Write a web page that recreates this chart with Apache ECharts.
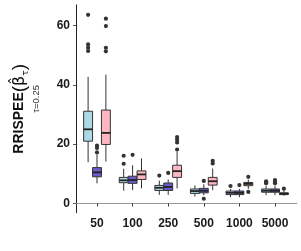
<!DOCTYPE html>
<html><head><meta charset="utf-8">
<script src="https://cdn.jsdelivr.net/npm/echarts@6/dist/echarts.min.js"></script>
<style>html,body{margin:0;padding:0;background:#fff}#c{width:301px;height:251px}</style>
</head><body><div id="c"></div>
<script>
// ---- data ----
const categories = ['50', '100', '250', '500', '1000', '5000'];
const yTicks = [0, 20, 40, 60];
// [lower whisker, Q1, median, Q3, upper whisker]
const blueBox = [
  [13.9, 21.0, 25.0, 31.1, 42.7],
  [4.3, 7.0, 7.8, 8.8, 11.7],
  [2.9, 4.4, 5.3, 6.1, 7.7],
  [2.3, 3.4, 4.2, 4.9, 6.1],
  [2.1, 3.0, 3.6, 4.2, 4.9],
  [2.8, 3.8, 4.3, 4.9, 5.9]
];
const purpleBox = [
  [6.8, 9.0, 10.5, 12.1, 16.5],
  [4.5, 6.8, 7.9, 9.2, 12.9],
  [2.9, 4.4, 5.6, 6.9, 8.1],
  [2.8, 3.6, 4.3, 5.1, 6.5],
  [2.1, 3.0, 3.6, 4.2, 4.9],
  [2.8, 3.8, 4.3, 4.9, 5.9]
];
const pinkBox = [
  [14.1, 19.9, 23.8, 31.5, 43.4],
  [5.1, 8.1, 9.8, 11.0, 15.2],
  [5.1, 8.8, 10.9, 12.9, 17.5],
  [4.5, 6.2, 7.5, 8.8, 11.8],
  [4.9, 6.0, 6.6, 7.1, 8.0],
  [2.6, 3.0, 3.3, 3.6, 4.4]
];
// outliers: [category index, value]
const blueOut = [[0, 63.6], [0, 53.6], [0, 52.5], [0, 51.4], [1, 16.1], [1, 13.4], [2, 9.4], [4, 5.9], [5, 7.5], [5, 7.1], [5, 6.8]];
const purpleOut = [[0, 19.5], [0, 18.7], [0, 17.2], [1, 16.4], [2, 10.3], [3, 7.6], [3, 1.6], [4, 6.2], [5, 7.9], [5, 7.3], [5, 6.8]];
const pinkOut = [[0, 62.3], [0, 59.8], [0, 52.5], [0, 51.3], [2, 22.4], [2, 21.5], [2, 20.6], [2, 18.2], [3, 14.4], [3, 13.5], [4, 9.0], [4, 3.9], [5, 5.0]];

// ---- chart ----
const Y_MIN = -3.1, Y_MAX = 66.9;
const chart = echarts.init(document.getElementById('c'), null, { renderer: 'canvas' });
const STROKE = '#333';

function boxSeries(name, data, offset, color) {
  return {
    type: 'custom', name: name, xAxisIndex: 1, yAxisIndex: 1,
    data: data.map((d, i) => [i].concat(d)),
    encode: { x: 0, y: [1, 2, 3, 4, 5] },
    renderItem: function (params, api) {
      const cat = api.value(0);
      const unit = api.size([1, 0])[0];
      const hw = 0.125 * unit;
      const p = k => api.coord([cat, api.value(k)]);
      const x = p(1)[0] + offset * unit;
      const yLow = p(1)[1], yQ1 = p(2)[1], yMed = p(3)[1], yQ3 = p(4)[1], yHigh = p(5)[1];
      return {
        type: 'group', children: [
          { type: 'line', shape: { x1: x, y1: yHigh, x2: x, y2: yQ3 }, style: { stroke: STROKE, lineWidth: 1 } },
          { type: 'line', shape: { x1: x, y1: yQ1, x2: x, y2: yLow }, style: { stroke: STROKE, lineWidth: 1 } },
          { type: 'rect', shape: { x: x - hw, y: yQ3, width: 2 * hw, height: yQ1 - yQ3 }, style: { fill: color, stroke: STROKE, lineWidth: 1 } },
          { type: 'line', shape: { x1: x - hw, y1: yMed, x2: x + hw, y2: yMed }, style: { stroke: '#222', lineWidth: 1.8 } }
        ]
      };
    }
  };
}
function outSeries(data, offset) {
  return {
    type: 'custom', xAxisIndex: 1, yAxisIndex: 1, data: data,
    encode: { x: 0, y: 1 },
    renderItem: function (params, api) {
      const c = api.coord([api.value(0), api.value(1)]);
      const unit = api.size([1, 0])[0];
      return { type: 'circle', shape: { cx: c[0] + offset * unit, cy: c[1], r: 2.1 }, style: { fill: '#333' } };
    }
  };
}

const labelStyle = { color: '#1a1a1a', fontSize: 12, fontWeight: 'bold', fontFamily: 'Liberation Sans' };

chart.setOption({
  animation: false,
  backgroundColor: '#fff',
  grid: [
    { left: 76, top: 5, width: 220.7, height: 207.7 },
    { left: 79.2, top: 5, width: 213.6, height: 207.7 }
  ],
  xAxis: [
    { gridIndex: 0, type: 'value', min: 0, max: 1, position: 'bottom',
      axisLine: { show: true, lineStyle: { color: '#333', width: 1 } },
      axisTick: { show: false }, axisLabel: { show: false }, splitLine: { show: false } },
    { gridIndex: 1, type: 'category', data: categories, position: 'bottom',
      axisLine: { show: false },
      axisTick: { show: true, alignWithLabel: true, length: 3, lineStyle: { color: '#333' } },
      axisLabel: Object.assign({ margin: 5 }, labelStyle), splitLine: { show: false } },
    { gridIndex: 0, type: 'value', min: 0, max: 1, position: 'top',
      axisLine: { show: true, lineStyle: { color: '#999', width: 1 } },
      axisTick: { show: false }, axisLabel: { show: false }, splitLine: { show: false } }
  ],
  yAxis: [
    { gridIndex: 0, type: 'value', min: Y_MIN, max: Y_MAX, position: 'left',
      axisLine: { show: true, lineStyle: { color: '#777', width: 1 } },
      axisTick: { show: true, length: 3, customValues: yTicks, lineStyle: { color: '#555' } },
      axisLabel: Object.assign({ margin: 6, customValues: yTicks }, labelStyle),
      splitLine: { show: false },
      name: '{a|RRISPEE}{p|(}{c|β\u0302}{s|τ}{p|)}\n{e|τ=0.25}',
      nameLocation: 'middle', nameGap: 34, nameRotate: 90,
      nameTextStyle: {
        align: 'center',
        rich: {
          a: { fontSize: 14, fontWeight: 'bold', color: '#111', fontFamily: 'Liberation Sans', lineHeight: 21 },
          p: { fontSize: 19, color: '#111', fontFamily: 'Liberation Sans', lineHeight: 21 },
          c: { fontSize: 16, color: '#111', fontFamily: 'DejaVu Sans', lineHeight: 21 },
          s: { fontSize: 9, color: '#111', fontFamily: 'DejaVu Sans', verticalAlign: 'bottom', lineHeight: 21 },
          e: { fontSize: 9.5, color: '#333', fontFamily: 'Liberation Sans', lineHeight: 12, padding: [0, 0, 0, 20] }
        }
      } },
    { gridIndex: 1, type: 'value', min: Y_MIN, max: Y_MAX, show: false, splitLine: { show: false } },
    { gridIndex: 0, type: 'value', min: Y_MIN, max: Y_MAX, position: 'right',
      axisLine: { show: true, lineStyle: { color: '#222', width: 1 } },
      axisTick: { show: false }, axisLabel: { show: false }, splitLine: { show: false } }
  ],
  series: [
    boxSeries('blue', blueBox, -0.25, '#ADD8E6'),
    boxSeries('purple', purpleBox, 0, '#6A5ACD'),
    boxSeries('pink', pinkBox, 0.25, '#FFB6C1'),
    outSeries(blueOut, -0.25),
    outSeries(purpleOut, 0),
    outSeries(pinkOut, 0.25)
  ]
});
</script>
</body></html>
